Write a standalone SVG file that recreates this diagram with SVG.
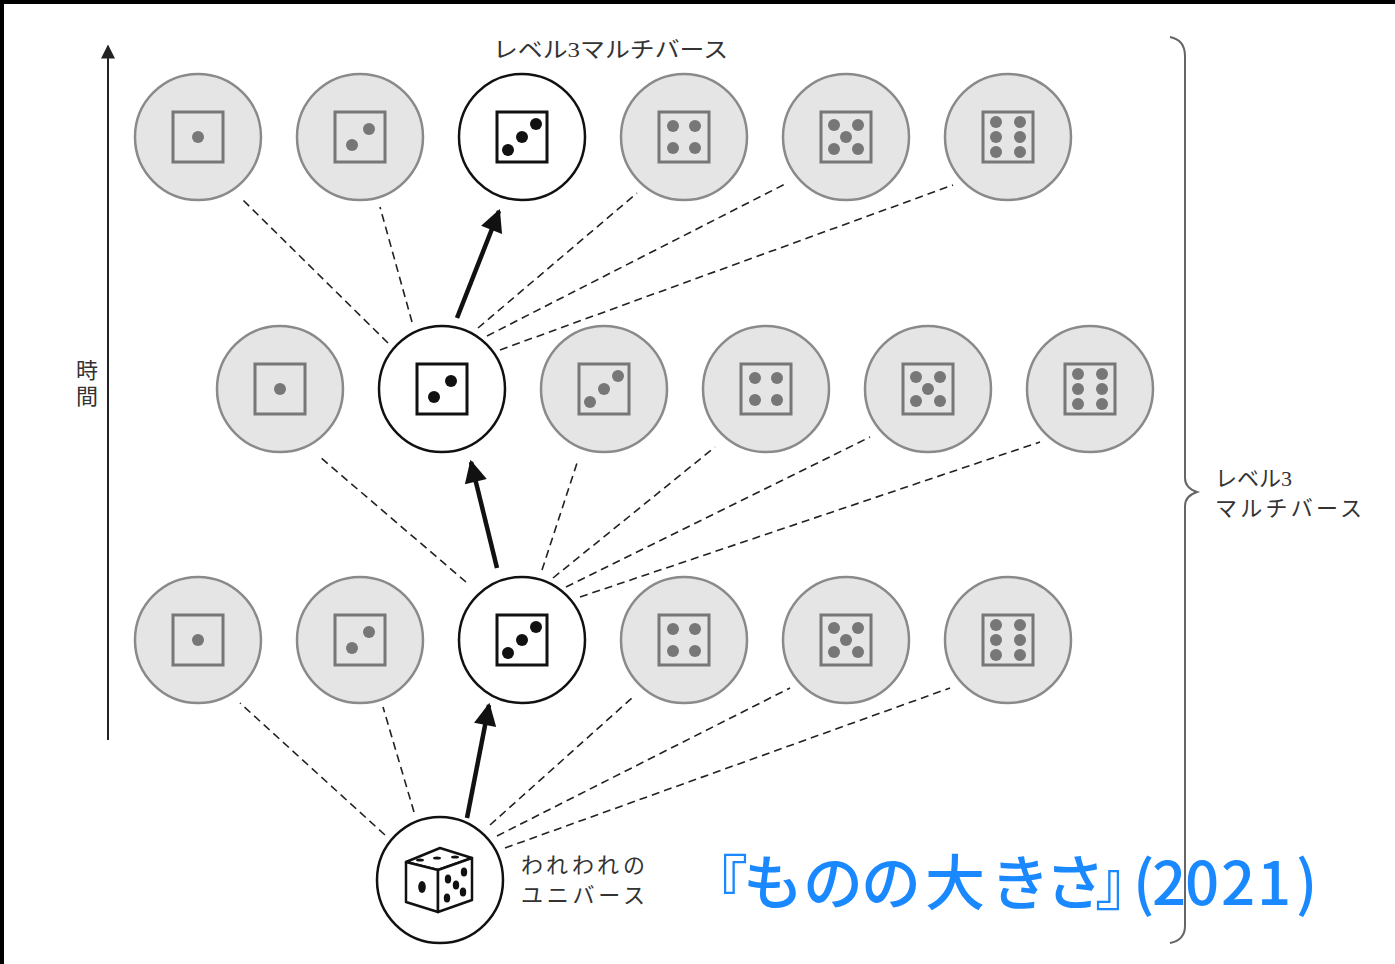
<svg xmlns="http://www.w3.org/2000/svg" width="1395" height="964" viewBox="0 0 1395 964">
  <style>
    .grey { fill: #e5e5e5; stroke: #8a8a8a; stroke-width: 2.5; }
    .main { fill: #ffffff; stroke: #111111; stroke-width: 2.5; }
    .dash { stroke: #222; stroke-width: 1.6; stroke-dasharray: 8 5; fill: none; }
    .arrow { stroke: #111; stroke-width: 4.5; fill: none; marker-end: url(#headBig); }
    .label { font-family: "Liberation Serif", "Noto Sans CJK JP", serif; font-size: 22px; fill: #333; }
    .credit { font-family: "Noto Sans CJK JP", "Noto Sans", sans-serif; font-size: 60px; font-weight: 500; fill: #1a88ff; }
  </style>
  <defs>
    <marker id="headBig" viewBox="0 0 10 10" refX="9" refY="5" markerWidth="5.5" markerHeight="5" orient="auto" markerUnits="strokeWidth">
      <path d="M0,0 L10,5 L0,10 Z" fill="#111"/>
    </marker>
    <marker id="headAxis" viewBox="0 0 10 10" refX="9" refY="5" markerWidth="10" markerHeight="7" orient="auto" markerUnits="strokeWidth">
      <path d="M0,0 L10,5 L0,10 Z" fill="#222"/>
    </marker>
    <!-- die faces, drawn around (0,0), coloured via currentColor -->
    <rect id="sq" x="-25" y="-25" width="50" height="50" fill="none" stroke="currentColor" stroke-width="3"/>
    <g id="f1"><use href="#sq"/><circle r="6" fill="currentColor"/></g>
    <g id="f2"><use href="#sq"/><circle cx="9" cy="-8" r="6" fill="currentColor"/><circle cx="-8" cy="8" r="6" fill="currentColor"/></g>
    <g id="f3"><use href="#sq"/><circle cx="14" cy="-13" r="6" fill="currentColor"/><circle r="6" fill="currentColor"/><circle cx="-14" cy="13" r="6" fill="currentColor"/></g>
    <g id="f4"><use href="#sq"/><circle cx="-11" cy="-11" r="6" fill="currentColor"/><circle cx="11" cy="-11" r="6" fill="currentColor"/><circle cx="-11" cy="11" r="6" fill="currentColor"/><circle cx="11" cy="11" r="6" fill="currentColor"/></g>
    <g id="f5"><use href="#sq"/><circle cx="-12" cy="-12" r="6" fill="currentColor"/><circle cx="12" cy="-12" r="6" fill="currentColor"/><circle r="6" fill="currentColor"/><circle cx="-12" cy="12" r="6" fill="currentColor"/><circle cx="12" cy="12" r="6" fill="currentColor"/></g>
    <g id="f6"><use href="#sq"/><circle cx="-12" cy="-15" r="6" fill="currentColor"/><circle cx="12" cy="-15" r="6" fill="currentColor"/><circle cx="-12" r="6" fill="currentColor"/><circle cx="12" r="6" fill="currentColor"/><circle cx="-12" cy="15" r="6" fill="currentColor"/><circle cx="12" cy="15" r="6" fill="currentColor"/></g>
  </defs>

  <rect width="1395" height="964" fill="#ffffff"/>
  <!-- frame edges -->
  <rect x="0" y="0" width="1395" height="4" fill="#000"/>
  <rect x="0" y="0" width="4" height="964" fill="#000"/>

  <!-- time axis -->
  <g id="time-axis">
    <line x1="108" y1="740" x2="108" y2="46" stroke="#222" stroke-width="2" marker-end="url(#headAxis)"/>
    <text class="label" x="87" y="378" text-anchor="middle">時</text>
    <text class="label" x="87" y="404" text-anchor="middle">間</text>
  </g>

  <!-- connectors -->
  <g id="connectors">
    <!-- to upper row -->
    <line class="dash" x1="388" y1="343" x2="243" y2="200"/>
    <line class="dash" x1="412" y1="322" x2="380" y2="207"/>
    <line class="dash" x1="478" y1="328" x2="637" y2="193"/>
    <line class="dash" x1="487" y1="336" x2="787" y2="183"/>
    <line class="dash" x1="500" y1="350" x2="953" y2="185"/>
    <!-- to middle row -->
    <line class="dash" x1="466" y1="582" x2="320" y2="457"/>
    <line class="dash" x1="542" y1="570" x2="578" y2="460"/>
    <line class="dash" x1="553" y1="578" x2="715" y2="447"/>
    <line class="dash" x1="566" y1="587" x2="870" y2="437"/>
    <line class="dash" x1="580" y1="597" x2="1040" y2="442"/>
    <!-- to lower row -->
    <line class="dash" x1="385" y1="835" x2="240" y2="703"/>
    <line class="dash" x1="414" y1="812" x2="383" y2="707"/>
    <line class="dash" x1="490" y1="825" x2="633" y2="697"/>
    <line class="dash" x1="497" y1="836" x2="790" y2="688"/>
    <line class="dash" x1="505" y1="848" x2="950" y2="688"/>
    <!-- path of our universe -->
    <line class="arrow" x1="467" y1="818" x2="489" y2="705"/>
    <line class="arrow" x1="497" y1="568" x2="471" y2="462"/>
    <line class="arrow" x1="457" y1="318" x2="499" y2="211"/>
  </g>

  <!-- upper row -->
  <g id="u1"><circle class="grey" cx="198" cy="137" r="63"/><use href="#f1" x="198" y="137" color="#777"/></g>
  <g id="u2"><circle class="grey" cx="360" cy="137" r="63"/><use href="#f2" x="360" y="137" color="#777"/></g>
  <g id="u3"><circle class="main" cx="522" cy="137" r="63"/><use href="#f3" x="522" y="137" color="#111"/></g>
  <g id="u4"><circle class="grey" cx="684" cy="137" r="63"/><use href="#f4" x="684" y="137" color="#777"/></g>
  <g id="u5"><circle class="grey" cx="846" cy="137" r="63"/><use href="#f5" x="846" y="137" color="#777"/></g>
  <g id="u6"><circle class="grey" cx="1008" cy="137" r="63"/><use href="#f6" x="1008" y="137" color="#777"/></g>

  <!-- middle row -->
  <g id="m1"><circle class="grey" cx="280" cy="389" r="63"/><use href="#f1" x="280" y="389" color="#777"/></g>
  <g id="m2"><circle class="main" cx="442" cy="389" r="63"/><use href="#f2" x="442" y="389" color="#111"/></g>
  <g id="m3"><circle class="grey" cx="604" cy="389" r="63"/><use href="#f3" x="604" y="389" color="#777"/></g>
  <g id="m4"><circle class="grey" cx="766" cy="389" r="63"/><use href="#f4" x="766" y="389" color="#777"/></g>
  <g id="m5"><circle class="grey" cx="928" cy="389" r="63"/><use href="#f5" x="928" y="389" color="#777"/></g>
  <g id="m6"><circle class="grey" cx="1090" cy="389" r="63"/><use href="#f6" x="1090" y="389" color="#777"/></g>

  <!-- lower row -->
  <g id="l1"><circle class="grey" cx="198" cy="640" r="63"/><use href="#f1" x="198" y="640" color="#777"/></g>
  <g id="l2"><circle class="grey" cx="360" cy="640" r="63"/><use href="#f2" x="360" y="640" color="#777"/></g>
  <g id="l3"><circle class="main" cx="522" cy="640" r="63"/><use href="#f3" x="522" y="640" color="#111"/></g>
  <g id="l4"><circle class="grey" cx="684" cy="640" r="63"/><use href="#f4" x="684" y="640" color="#777"/></g>
  <g id="l5"><circle class="grey" cx="846" cy="640" r="63"/><use href="#f5" x="846" y="640" color="#777"/></g>
  <g id="l6"><circle class="grey" cx="1008" cy="640" r="63"/><use href="#f6" x="1008" y="640" color="#777"/></g>

  <!-- our universe: a 3D die -->
  <g id="origin">
    <circle class="main" cx="440" cy="880" r="63"/>
    <g stroke="#111" stroke-width="2.5" stroke-linejoin="round" fill="#fff">
      <path d="M406,862 L440,848 L472,858 L438,870 Z"/>
      <path d="M406,862 L438,870 L438,912 L406,902 Z"/>
      <path d="M438,870 L472,858 L472,900 L438,912 Z"/>
    </g>
    <g fill="#111">
      <ellipse cx="420" cy="860" rx="4" ry="1.6"/>
      <ellipse cx="437" cy="858" rx="4" ry="1.6"/>
      <ellipse cx="455" cy="857" rx="4" ry="1.6"/>
      <ellipse cx="422" cy="887" rx="3.8" ry="6"/>
      <ellipse cx="448" cy="879" rx="3.2" ry="4.5"/>
      <ellipse cx="464" cy="872" rx="3.2" ry="4.5"/>
      <ellipse cx="456" cy="885" rx="3.2" ry="4.5"/>
      <ellipse cx="447" cy="898" rx="3.2" ry="4.5"/>
      <ellipse cx="463" cy="892" rx="3.2" ry="4.5"/>
    </g>
    <text class="label" x="521" y="873" textLength="124" lengthAdjust="spacing">われわれの</text>
    <text class="label" x="521" y="903" textLength="124" lengthAdjust="spacing">ユニバース</text>
  </g>

  <!-- labels -->
  <text class="label" x="493" y="57" textLength="235" lengthAdjust="spacingAndGlyphs">レベル3マルチバース</text>

  <g id="brace">
    <path d="M1170,37 Q1185,40 1185,56 L1185,478 Q1185,488 1197,492 Q1185,496 1185,506 L1185,926 Q1185,940 1170,943" fill="none" stroke="#666" stroke-width="2"/>
    <text class="label" x="1215" y="486">レベル3</text>
    <text class="label" x="1215" y="516" textLength="147" lengthAdjust="spacing">マルチバース</text>
  </g>

  <text class="credit" y="905" x="688 743 803 861 925 990 1045 1095 1133 1152 1185 1221 1257 1296">『ものの大きさ』(2021)</text>
</svg>
